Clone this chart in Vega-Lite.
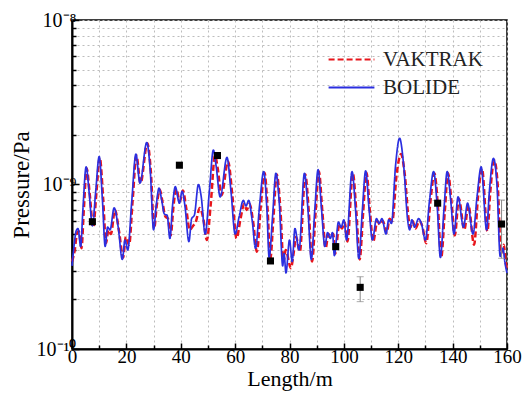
{
  "$schema": "https://vega.github.io/schema/vega-lite/v6.json",
  "width": 435,
  "height": 329,
  "autosize": "none",
  "padding": {"left": 72, "top": 20, "right": 24, "bottom": 45},
  "background": "white",
  "config": {
    "view": {"stroke": "black", "strokeWidth": 1.5},
    "font": "Liberation Serif",
    "axis": {"labelFont": "Liberation Serif", "titleFont": "Liberation Serif", "labelColor": "black", "titleColor": "black", "titleFontWeight": "normal"},
    "legend": {"labelFont": "Liberation Serif", "labelFontSize": 21, "labelColor": "#222"}
  },
  "datasets": {
    "lines": [
      {"s": "BOLIDE", "L": 0, "P": 3.2e-10},
      {"s": "BOLIDE", "L": 0.8, "P": 4.3e-10},
      {"s": "BOLIDE", "L": 1.5, "P": 5.2e-10},
      {"s": "BOLIDE", "L": 2.2, "P": 5.4e-10},
      {"s": "BOLIDE", "L": 3.2, "P": 4.2e-10},
      {"s": "BOLIDE", "L": 4, "P": 7e-10},
      {"s": "BOLIDE", "L": 5.2, "P": 1.28e-9},
      {"s": "BOLIDE", "L": 6.3, "P": 9e-10},
      {"s": "BOLIDE", "L": 7.5, "P": 5.6e-10},
      {"s": "BOLIDE", "L": 8.7, "P": 9e-10},
      {"s": "BOLIDE", "L": 10, "P": 1.48e-9},
      {"s": "BOLIDE", "L": 11.2, "P": 8e-10},
      {"s": "BOLIDE", "L": 12.2, "P": 4.2e-10},
      {"s": "BOLIDE", "L": 13.1, "P": 5.5e-10},
      {"s": "BOLIDE", "L": 14, "P": 5.3e-10},
      {"s": "BOLIDE", "L": 15.5, "P": 7.2e-10},
      {"s": "BOLIDE", "L": 17, "P": 5.5e-10},
      {"s": "BOLIDE", "L": 18.5, "P": 3.5e-10},
      {"s": "BOLIDE", "L": 19.5, "P": 4.6e-10},
      {"s": "BOLIDE", "L": 20.5, "P": 4.0e-10},
      {"s": "BOLIDE", "L": 22, "P": 8e-10},
      {"s": "BOLIDE", "L": 23.5, "P": 1.53e-9},
      {"s": "BOLIDE", "L": 25, "P": 1.02e-9},
      {"s": "BOLIDE", "L": 27.5, "P": 1.8e-9},
      {"s": "BOLIDE", "L": 28.8, "P": 1.2e-9},
      {"s": "BOLIDE", "L": 30, "P": 5.3e-10},
      {"s": "BOLIDE", "L": 31, "P": 7.5e-10},
      {"s": "BOLIDE", "L": 32, "P": 9.5e-10},
      {"s": "BOLIDE", "L": 33, "P": 8e-10},
      {"s": "BOLIDE", "L": 34, "P": 6.6e-10},
      {"s": "BOLIDE", "L": 35, "P": 6.5e-10},
      {"s": "BOLIDE", "L": 36, "P": 4.7e-10},
      {"s": "BOLIDE", "L": 37, "P": 7.5e-10},
      {"s": "BOLIDE", "L": 38, "P": 9.7e-10},
      {"s": "BOLIDE", "L": 39.5, "P": 7.7e-10},
      {"s": "BOLIDE", "L": 40.5, "P": 9.1e-10},
      {"s": "BOLIDE", "L": 41.5, "P": 7.5e-10},
      {"s": "BOLIDE", "L": 43, "P": 4.5e-10},
      {"s": "BOLIDE", "L": 44, "P": 6.2e-10},
      {"s": "BOLIDE", "L": 45, "P": 6.5e-10},
      {"s": "BOLIDE", "L": 46.5, "P": 1e-9},
      {"s": "BOLIDE", "L": 47.5, "P": 8.5e-10},
      {"s": "BOLIDE", "L": 49, "P": 5e-10},
      {"s": "BOLIDE", "L": 50.5, "P": 9e-10},
      {"s": "BOLIDE", "L": 52, "P": 1.62e-9},
      {"s": "BOLIDE", "L": 53, "P": 1.3e-9},
      {"s": "BOLIDE", "L": 54.5, "P": 8.4e-10},
      {"s": "BOLIDE", "L": 57, "P": 1.46e-9},
      {"s": "BOLIDE", "L": 58.5, "P": 9e-10},
      {"s": "BOLIDE", "L": 60, "P": 5e-10},
      {"s": "BOLIDE", "L": 61.5, "P": 6.4e-10},
      {"s": "BOLIDE", "L": 63, "P": 8e-10},
      {"s": "BOLIDE", "L": 64, "P": 7.4e-10},
      {"s": "BOLIDE", "L": 65, "P": 8e-10},
      {"s": "BOLIDE", "L": 66.3, "P": 6e-10},
      {"s": "BOLIDE", "L": 67.5, "P": 4.1e-10},
      {"s": "BOLIDE", "L": 69, "P": 7.5e-10},
      {"s": "BOLIDE", "L": 70.5, "P": 1.2e-9},
      {"s": "BOLIDE", "L": 71.7, "P": 7e-10},
      {"s": "BOLIDE", "L": 72.5, "P": 3.6e-10},
      {"s": "BOLIDE", "L": 73.8, "P": 6.5e-10},
      {"s": "BOLIDE", "L": 75, "P": 1.17e-9},
      {"s": "BOLIDE", "L": 76.3, "P": 7.5e-10},
      {"s": "BOLIDE", "L": 77.5, "P": 3.2e-10},
      {"s": "BOLIDE", "L": 78, "P": 3.8e-10},
      {"s": "BOLIDE", "L": 78.7, "P": 2.9e-10},
      {"s": "BOLIDE", "L": 80, "P": 4.6e-10},
      {"s": "BOLIDE", "L": 81, "P": 3.4e-10},
      {"s": "BOLIDE", "L": 82, "P": 5.4e-10},
      {"s": "BOLIDE", "L": 83.5, "P": 4.0e-10},
      {"s": "BOLIDE", "L": 85.5, "P": 1.17e-9},
      {"s": "BOLIDE", "L": 86.8, "P": 7e-10},
      {"s": "BOLIDE", "L": 88, "P": 3.5e-10},
      {"s": "BOLIDE", "L": 89.3, "P": 7e-10},
      {"s": "BOLIDE", "L": 90.5, "P": 1.23e-9},
      {"s": "BOLIDE", "L": 91.8, "P": 7e-10},
      {"s": "BOLIDE", "L": 93, "P": 4.2e-10},
      {"s": "BOLIDE", "L": 94, "P": 5.1e-10},
      {"s": "BOLIDE", "L": 95, "P": 4.7e-10},
      {"s": "BOLIDE", "L": 95.8, "P": 5.1e-10},
      {"s": "BOLIDE", "L": 96.5, "P": 3.7e-10},
      {"s": "BOLIDE", "L": 98, "P": 5.9e-10},
      {"s": "BOLIDE", "L": 99, "P": 5.5e-10},
      {"s": "BOLIDE", "L": 100, "P": 6.1e-10},
      {"s": "BOLIDE", "L": 101, "P": 4.6e-10},
      {"s": "BOLIDE", "L": 103, "P": 1.2e-9},
      {"s": "BOLIDE", "L": 104.3, "P": 7e-10},
      {"s": "BOLIDE", "L": 105.5, "P": 3.55e-10},
      {"s": "BOLIDE", "L": 106.8, "P": 7e-10},
      {"s": "BOLIDE", "L": 108, "P": 1.21e-9},
      {"s": "BOLIDE", "L": 109.3, "P": 7e-10},
      {"s": "BOLIDE", "L": 110.5, "P": 4.6e-10},
      {"s": "BOLIDE", "L": 112, "P": 6.2e-10},
      {"s": "BOLIDE", "L": 113, "P": 5.8e-10},
      {"s": "BOLIDE", "L": 114, "P": 6.2e-10},
      {"s": "BOLIDE", "L": 115.5, "P": 5e-10},
      {"s": "BOLIDE", "L": 116.5, "P": 6.1e-10},
      {"s": "BOLIDE", "L": 117.5, "P": 5.8e-10},
      {"s": "BOLIDE", "L": 119, "P": 1.3e-9},
      {"s": "BOLIDE", "L": 120.5, "P": 1.91e-9},
      {"s": "BOLIDE", "L": 122, "P": 1.3e-9},
      {"s": "BOLIDE", "L": 123.5, "P": 6e-10},
      {"s": "BOLIDE", "L": 124.2, "P": 5.3e-10},
      {"s": "BOLIDE", "L": 125, "P": 6.1e-10},
      {"s": "BOLIDE", "L": 126, "P": 5.5e-10},
      {"s": "BOLIDE", "L": 127.5, "P": 6.2e-10},
      {"s": "BOLIDE", "L": 128.5, "P": 5.8e-10},
      {"s": "BOLIDE", "L": 130, "P": 4.6e-10},
      {"s": "BOLIDE", "L": 131.5, "P": 8e-10},
      {"s": "BOLIDE", "L": 133, "P": 1.2e-9},
      {"s": "BOLIDE", "L": 134.3, "P": 7.5e-10},
      {"s": "BOLIDE", "L": 135.5, "P": 3.6e-10},
      {"s": "BOLIDE", "L": 136.8, "P": 7e-10},
      {"s": "BOLIDE", "L": 138, "P": 1.2e-9},
      {"s": "BOLIDE", "L": 139.3, "P": 8e-10},
      {"s": "BOLIDE", "L": 140.5, "P": 5e-10},
      {"s": "BOLIDE", "L": 142, "P": 8.4e-10},
      {"s": "BOLIDE", "L": 144, "P": 5.5e-10},
      {"s": "BOLIDE", "L": 145.5, "P": 7.7e-10},
      {"s": "BOLIDE", "L": 147.5, "P": 5e-10},
      {"s": "BOLIDE", "L": 149, "P": 8.5e-10},
      {"s": "BOLIDE", "L": 150.5, "P": 1.28e-9},
      {"s": "BOLIDE", "L": 152.5, "P": 5.3e-10},
      {"s": "BOLIDE", "L": 153.5, "P": 9e-10},
      {"s": "BOLIDE", "L": 155, "P": 1.44e-9},
      {"s": "BOLIDE", "L": 156.3, "P": 1e-9},
      {"s": "BOLIDE", "L": 157.5, "P": 3.65e-10},
      {"s": "BOLIDE", "L": 158.5, "P": 4.1e-10},
      {"s": "BOLIDE", "L": 159.3, "P": 3.3e-10},
      {"s": "BOLIDE", "L": 160, "P": 2.9e-10},

      {"s": "VAKTRAK", "L": 0, "P": 3.4e-10},
      {"s": "VAKTRAK", "L": 1, "P": 4.0e-10},
      {"s": "VAKTRAK", "L": 1.8, "P": 5.0e-10},
      {"s": "VAKTRAK", "L": 2.5, "P": 5.2e-10},
      {"s": "VAKTRAK", "L": 3.5, "P": 4.1e-10},
      {"s": "VAKTRAK", "L": 4.3, "P": 6.8e-10},
      {"s": "VAKTRAK", "L": 5.4, "P": 1.25e-9},
      {"s": "VAKTRAK", "L": 6.5, "P": 8.8e-10},
      {"s": "VAKTRAK", "L": 7.8, "P": 5.5e-10},
      {"s": "VAKTRAK", "L": 9, "P": 9e-10},
      {"s": "VAKTRAK", "L": 10.2, "P": 1.46e-9},
      {"s": "VAKTRAK", "L": 11.5, "P": 8e-10},
      {"s": "VAKTRAK", "L": 12.5, "P": 4.4e-10},
      {"s": "VAKTRAK", "L": 13.4, "P": 5.3e-10},
      {"s": "VAKTRAK", "L": 14.3, "P": 5.0e-10},
      {"s": "VAKTRAK", "L": 15.8, "P": 7.0e-10},
      {"s": "VAKTRAK", "L": 17.3, "P": 5.2e-10},
      {"s": "VAKTRAK", "L": 18.8, "P": 3.6e-10},
      {"s": "VAKTRAK", "L": 19.8, "P": 4.8e-10},
      {"s": "VAKTRAK", "L": 21, "P": 4.3e-10},
      {"s": "VAKTRAK", "L": 22.3, "P": 8e-10},
      {"s": "VAKTRAK", "L": 23.7, "P": 1.5e-9},
      {"s": "VAKTRAK", "L": 25.2, "P": 1.02e-9},
      {"s": "VAKTRAK", "L": 27.7, "P": 1.78e-9},
      {"s": "VAKTRAK", "L": 29, "P": 1.2e-9},
      {"s": "VAKTRAK", "L": 30.2, "P": 5.4e-10},
      {"s": "VAKTRAK", "L": 31.2, "P": 7.5e-10},
      {"s": "VAKTRAK", "L": 32.3, "P": 9.3e-10},
      {"s": "VAKTRAK", "L": 33.3, "P": 7.8e-10},
      {"s": "VAKTRAK", "L": 34.3, "P": 6.4e-10},
      {"s": "VAKTRAK", "L": 35.3, "P": 6.2e-10},
      {"s": "VAKTRAK", "L": 36.3, "P": 4.9e-10},
      {"s": "VAKTRAK", "L": 37.3, "P": 7.3e-10},
      {"s": "VAKTRAK", "L": 38.3, "P": 9.4e-10},
      {"s": "VAKTRAK", "L": 39.7, "P": 7.9e-10},
      {"s": "VAKTRAK", "L": 40.8, "P": 9.2e-10},
      {"s": "VAKTRAK", "L": 42, "P": 7.2e-10},
      {"s": "VAKTRAK", "L": 43.3, "P": 5.3e-10},
      {"s": "VAKTRAK", "L": 44.5, "P": 5.6e-10},
      {"s": "VAKTRAK", "L": 45.5, "P": 5.9e-10},
      {"s": "VAKTRAK", "L": 47, "P": 7.2e-10},
      {"s": "VAKTRAK", "L": 48.3, "P": 6.2e-10},
      {"s": "VAKTRAK", "L": 49.6, "P": 4.6e-10},
      {"s": "VAKTRAK", "L": 51, "P": 7.5e-10},
      {"s": "VAKTRAK", "L": 52.6, "P": 1.5e-9},
      {"s": "VAKTRAK", "L": 53.6, "P": 1.25e-9},
      {"s": "VAKTRAK", "L": 55, "P": 8.6e-10},
      {"s": "VAKTRAK", "L": 57.4, "P": 1.38e-9},
      {"s": "VAKTRAK", "L": 59, "P": 8.5e-10},
      {"s": "VAKTRAK", "L": 60.5, "P": 4.7e-10},
      {"s": "VAKTRAK", "L": 62, "P": 6.2e-10},
      {"s": "VAKTRAK", "L": 63.3, "P": 7.6e-10},
      {"s": "VAKTRAK", "L": 64.3, "P": 7.0e-10},
      {"s": "VAKTRAK", "L": 65.3, "P": 7.6e-10},
      {"s": "VAKTRAK", "L": 66.7, "P": 5.8e-10},
      {"s": "VAKTRAK", "L": 68, "P": 3.9e-10},
      {"s": "VAKTRAK", "L": 69.4, "P": 7.3e-10},
      {"s": "VAKTRAK", "L": 70.8, "P": 1.18e-9},
      {"s": "VAKTRAK", "L": 72, "P": 6.8e-10},
      {"s": "VAKTRAK", "L": 72.9, "P": 3.5e-10},
      {"s": "VAKTRAK", "L": 74.1, "P": 6.3e-10},
      {"s": "VAKTRAK", "L": 75.3, "P": 1.15e-9},
      {"s": "VAKTRAK", "L": 76.6, "P": 7.3e-10},
      {"s": "VAKTRAK", "L": 77.8, "P": 3.4e-10},
      {"s": "VAKTRAK", "L": 78.6, "P": 4.0e-10},
      {"s": "VAKTRAK", "L": 80.5, "P": 3.1e-10},
      {"s": "VAKTRAK", "L": 81.5, "P": 3.8e-10},
      {"s": "VAKTRAK", "L": 82.4, "P": 4.8e-10},
      {"s": "VAKTRAK", "L": 83.8, "P": 3.9e-10},
      {"s": "VAKTRAK", "L": 85.8, "P": 1.15e-9},
      {"s": "VAKTRAK", "L": 87.1, "P": 6.8e-10},
      {"s": "VAKTRAK", "L": 88.3, "P": 3.4e-10},
      {"s": "VAKTRAK", "L": 89.6, "P": 6.8e-10},
      {"s": "VAKTRAK", "L": 90.8, "P": 1.2e-9},
      {"s": "VAKTRAK", "L": 92.1, "P": 6.8e-10},
      {"s": "VAKTRAK", "L": 93.3, "P": 4.1e-10},
      {"s": "VAKTRAK", "L": 94.3, "P": 5.0e-10},
      {"s": "VAKTRAK", "L": 95.3, "P": 4.8e-10},
      {"s": "VAKTRAK", "L": 96.1, "P": 5.0e-10},
      {"s": "VAKTRAK", "L": 96.8, "P": 3.8e-10},
      {"s": "VAKTRAK", "L": 98.3, "P": 5.7e-10},
      {"s": "VAKTRAK", "L": 99.3, "P": 5.4e-10},
      {"s": "VAKTRAK", "L": 100.3, "P": 5.9e-10},
      {"s": "VAKTRAK", "L": 101.3, "P": 4.5e-10},
      {"s": "VAKTRAK", "L": 103.3, "P": 1.17e-9},
      {"s": "VAKTRAK", "L": 104.6, "P": 6.8e-10},
      {"s": "VAKTRAK", "L": 105.8, "P": 3.5e-10},
      {"s": "VAKTRAK", "L": 107.1, "P": 6.8e-10},
      {"s": "VAKTRAK", "L": 108.3, "P": 1.18e-9},
      {"s": "VAKTRAK", "L": 109.6, "P": 6.8e-10},
      {"s": "VAKTRAK", "L": 110.8, "P": 4.5e-10},
      {"s": "VAKTRAK", "L": 112.3, "P": 6.0e-10},
      {"s": "VAKTRAK", "L": 113.3, "P": 5.7e-10},
      {"s": "VAKTRAK", "L": 114.3, "P": 6.0e-10},
      {"s": "VAKTRAK", "L": 115.8, "P": 5.1e-10},
      {"s": "VAKTRAK", "L": 116.8, "P": 6.2e-10},
      {"s": "VAKTRAK", "L": 117.8, "P": 6.0e-10},
      {"s": "VAKTRAK", "L": 119.4, "P": 1.15e-9},
      {"s": "VAKTRAK", "L": 121, "P": 1.53e-9},
      {"s": "VAKTRAK", "L": 122.4, "P": 1.15e-9},
      {"s": "VAKTRAK", "L": 123.8, "P": 6.2e-10},
      {"s": "VAKTRAK", "L": 124.5, "P": 5.5e-10},
      {"s": "VAKTRAK", "L": 125.3, "P": 6.0e-10},
      {"s": "VAKTRAK", "L": 126.3, "P": 5.4e-10},
      {"s": "VAKTRAK", "L": 127.8, "P": 6.0e-10},
      {"s": "VAKTRAK", "L": 128.8, "P": 5.6e-10},
      {"s": "VAKTRAK", "L": 130.3, "P": 4.4e-10},
      {"s": "VAKTRAK", "L": 131.8, "P": 7.8e-10},
      {"s": "VAKTRAK", "L": 133.3, "P": 1.17e-9},
      {"s": "VAKTRAK", "L": 134.6, "P": 7.3e-10},
      {"s": "VAKTRAK", "L": 135.8, "P": 3.6e-10},
      {"s": "VAKTRAK", "L": 137.1, "P": 6.8e-10},
      {"s": "VAKTRAK", "L": 138.3, "P": 1.17e-9},
      {"s": "VAKTRAK", "L": 139.6, "P": 7.8e-10},
      {"s": "VAKTRAK", "L": 140.8, "P": 4.9e-10},
      {"s": "VAKTRAK", "L": 142.3, "P": 8.2e-10},
      {"s": "VAKTRAK", "L": 144.3, "P": 5.3e-10},
      {"s": "VAKTRAK", "L": 145.8, "P": 7.5e-10},
      {"s": "VAKTRAK", "L": 147.9, "P": 4.3e-10},
      {"s": "VAKTRAK", "L": 149.3, "P": 8.3e-10},
      {"s": "VAKTRAK", "L": 150.8, "P": 1.25e-9},
      {"s": "VAKTRAK", "L": 152.8, "P": 5.2e-10},
      {"s": "VAKTRAK", "L": 153.8, "P": 8.8e-10},
      {"s": "VAKTRAK", "L": 155.3, "P": 1.4e-9},
      {"s": "VAKTRAK", "L": 156.6, "P": 9.8e-10},
      {"s": "VAKTRAK", "L": 157.8, "P": 3.8e-10},
      {"s": "VAKTRAK", "L": 158.8, "P": 4.3e-10},
      {"s": "VAKTRAK", "L": 159.5, "P": 3.4e-10},
      {"s": "VAKTRAK", "L": 160, "P": 3.0e-10}
    ],
    "meas": [
      {"L": 7.5, "P": 5.94e-10},
      {"L": 39.5, "P": 1.31e-9},
      {"L": 53.5, "P": 1.5e-9},
      {"L": 73, "P": 3.43e-10},
      {"L": 97, "P": 4.19e-10},
      {"L": 106, "P": 2.37e-10},
      {"L": 134.5, "P": 7.7e-10},
      {"L": 158, "P": 5.75e-10}
    ],
    "err": [
      {"L": 106, "P": 1.94e-10, "hi": 2.75e-10},
      {"L": 158, "P": 3.56e-10, "hi": 8.05e-10}
    ]
  },
  "encoding": {
    "x": {
      "field": "L", "type": "quantitative",
      "scale": {"domain": [0, 160], "nice": false, "zero": false},
      "axis": {
        "title": "Length/m",
        "values": [0, 10, 20, 30, 40, 50, 60, 70, 80, 90, 100, 110, 120, 130, 140, 150, 160],
        "labelExpr": "datum.value % 20 === 0 ? datum.label : ''",
        "grid": true, "gridColor": "#bdbdbd", "gridDash": [2, 3], "gridWidth": 1,
        "domainColor": "black", "domainWidth": 2,
        "tickColor": "black", "tickWidth": 1.5,
        "tickSize": {"condition": {"test": "datum.value % 20 === 0", "value": -6}, "value": -4},
        "labelPadding": 4,
        "labelFont": "Liberation Serif", "labelFontSize": 19, "labelColor": "black",
        "labelFlush": false, "labelOverlap": false,
        "titleFont": "Liberation Serif", "titleFontSize": 22, "titleFontWeight": "normal", "titleColor": "black",
        "titlePadding": 0
      }
    }
  },
  "layer": [
    {
      "data": {"name": "lines"},
      "transform": [{"filter": "datum.s === 'VAKTRAK'"}],
      "mark": {"type": "line", "strokeWidth": 2.5, "interpolate": "monotone"},
      "encoding": {
        "y": {
          "field": "P", "type": "quantitative", "title": "Pressure/Pa",
          "scale": {"type": "log", "domain": [1e-10, 1e-8], "nice": false},
          "axis": {
            "title": "Pressure/Pa",
            "values": [1e-10, 2e-10, 3e-10, 4e-10, 5e-10, 6e-10, 7e-10, 8e-10, 9e-10, 1e-9, 2e-9, 3e-9, 4e-9, 5e-9, 6e-9, 7e-9, 8e-9, 9e-9, 1e-8],
            "labelExpr": "abs(log(datum.value)/LN10 - round(log(datum.value)/LN10)) < 0.001 ? '10' + (round(log(datum.value)/LN10) === -8 ? '⁻⁸' : round(log(datum.value)/LN10) === -9 ? '⁻⁹' : '⁻¹⁰') : ''",
            "grid": true, "gridColor": "#bdbdbd", "gridDash": [2, 3], "gridWidth": 1,
            "domainColor": "black", "domainWidth": 2,
            "tickColor": "black", "tickWidth": 1.5,
            "tickSize": {"condition": {"test": "abs(log(datum.value)/LN10 - round(log(datum.value)/LN10)) < 0.001", "value": -7}, "value": -4},
            "labelPadding": 3,
            "labelFont": "Liberation Serif", "labelFontSize": 20, "labelColor": "black",
            "labelFlush": false, "labelOverlap": false,
            "titleFont": "Liberation Serif", "titleFontSize": 23, "titleFontWeight": "normal", "titleColor": "black",
            "titlePadding": 3
          }
        },
        "color": {
          "field": "s", "type": "nominal",
          "scale": {"domain": ["VAKTRAK", "BOLIDE"], "range": ["#e8151b", "#2b2fe0"]},
          "legend": {
            "title": null, "orient": "none", "legendX": 255, "legendY": 30,
            "symbolType": "stroke", "symbolSize": 2100, "symbolStrokeWidth": 2.2,
            "clipHeight": 19,
            "labelFont": "Liberation Serif", "labelFontSize": 21, "labelColor": "#222",
            "labelOffset": 7, "rowPadding": 6
          }
        },
        "strokeDash": {
          "field": "s", "type": "nominal",
          "scale": {"domain": ["VAKTRAK", "BOLIDE"], "range": [[6, 3], [1, 0]]},
          "legend": {
            "title": null, "orient": "none", "legendX": 255, "legendY": 30,
            "symbolType": "stroke", "symbolSize": 2100, "symbolStrokeWidth": 2.2,
            "clipHeight": 19,
            "labelFont": "Liberation Serif", "labelFontSize": 21, "labelColor": "#222",
            "labelOffset": 7, "rowPadding": 6
          }
        }
      }
    },
    {
      "data": {"name": "lines"},
      "transform": [{"filter": "datum.s === 'BOLIDE'"}],
      "mark": {"type": "line", "strokeWidth": 1.7, "interpolate": "monotone"},
      "encoding": {
        "y": {"field": "P", "type": "quantitative", "title": "Pressure/Pa"},
        "color": {"field": "s", "type": "nominal"},
        "strokeDash": {"field": "s", "type": "nominal"}
      }
    },
    {
      "data": {"name": "err"},
      "mark": {"type": "errorbar", "ticks": {"size": 7, "color": "#888"}, "color": "#888", "thickness": 1},
      "encoding": {
        "y": {"field": "P", "type": "quantitative", "title": "Pressure/Pa"},
        "y2": {"field": "hi"}
      }
    },
    {
      "data": {"name": "meas"},
      "mark": {"type": "square", "filled": true, "color": "black", "size": 50, "opacity": 1},
      "encoding": {
        "y": {"field": "P", "type": "quantitative", "title": "Pressure/Pa"}
      }
    }
  ]
}
